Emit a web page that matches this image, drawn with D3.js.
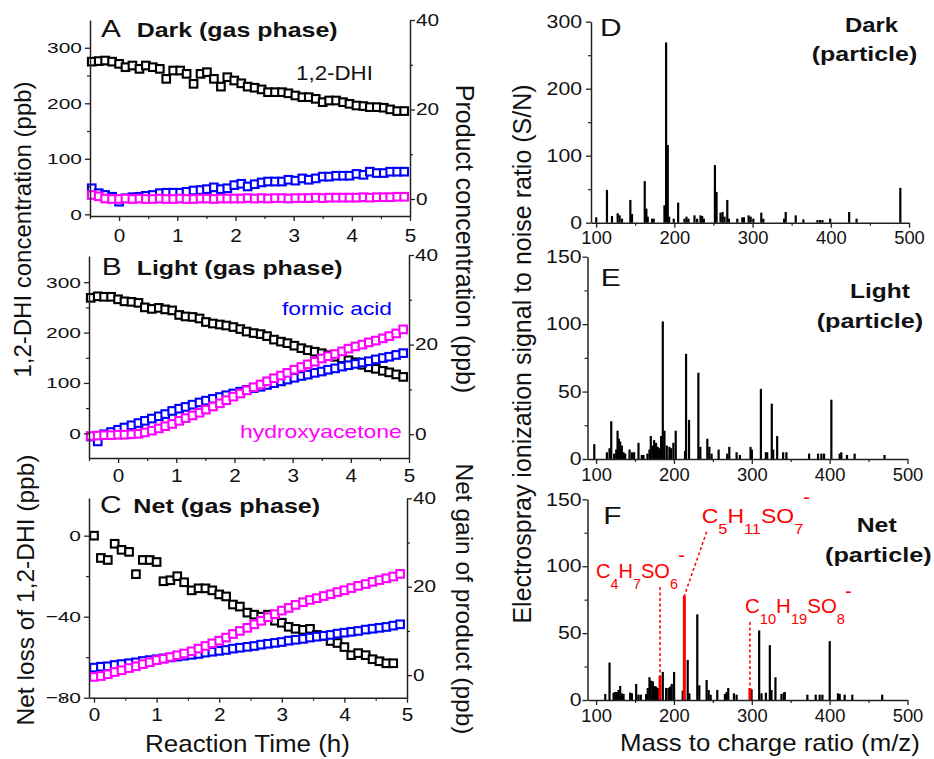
<!DOCTYPE html>
<html><head><meta charset="utf-8">
<script src="https://cdn.jsdelivr.net/npm/d3@7"></script>
<style>
body{margin:0;background:#fff;}
svg{display:block;font-family:"Liberation Sans",Arial,sans-serif;}
</style></head><body>
<svg id="c" width="934" height="759"></svg>
<script>
// ---------------- DATA ----------------
// Panels A and B: reaction time (h)
const timeAB = [-0.47,-0.35,-0.24,-0.12,0.00,0.11,0.23,0.35,0.46,0.58,0.70,0.81,0.93,1.05,1.16,1.28,1.40,1.51,1.63,1.75,1.86,1.98,2.10,2.21,2.33,2.45,2.56,2.68,2.80,2.91,3.03,3.15,3.26,3.38,3.50,3.61,3.73,3.85,3.96,4.08,4.20,4.31,4.43,4.55,4.66,4.78,4.90];
// A: Dark (gas phase)
const darkDHI = [275,276,277,275,271,265,268,262,268,265,262,244,259,259,253,235,253,256,244,230,247,241,236,230,228,225,220,220,220,218,214,211,211,208,202,205,205,202,199,196,195,193,193,192,189,186,186];
const darkFormic = [2.4,1.3,0.9,0.5,-0.6,0.15,0.4,0.5,0.7,0.9,1.3,1.4,1.4,1.4,1.6,1.9,2.0,2.2,2.6,2.2,2.4,3.1,3.4,2.8,3.3,3.7,3.9,3.9,3.9,4.3,4.1,4.6,4.3,4.6,5.0,5.0,5.2,5.2,5.2,5.6,5.4,6.1,5.8,5.8,6.1,6.1,6.1];
const darkHydroxy = [0.9,0.6,0.1,0.0,0.0,0.1,0.0,0.1,0.0,0.0,0.1,0.0,0.0,0.1,0.0,0.0,0.1,0.1,0.0,0.1,0.1,0.1,0.1,0.2,0.1,0.2,0.1,0.2,0.2,0.1,0.2,0.2,0.2,0.3,0.2,0.3,0.3,0.3,0.3,0.3,0.4,0.3,0.4,0.4,0.4,0.5,0.5];
// B: Light (gas phase)
const lightDHI = [269,272,271,271,266,262,261,259,250,247,249,246,244,235,232,231,228,221,218,216,214,211,207,202,199,197,193,186,182,179,174,169,165,162,159,155,152,149,145,141,136,131,128,124,121,117,112];
const lightFormic = [-0.5,-1.6,0.0,0.5,1.0,1.5,2.0,2.5,3.0,3.5,4.0,4.5,5.2,5.7,6.1,6.6,7.1,7.5,7.9,8.3,8.7,9.1,9.5,9.9,10.3,10.6,11.0,11.4,11.8,12.2,12.6,13.0,13.3,13.7,14.0,14.4,14.7,15.1,15.4,15.7,16.0,16.3,16.7,17.0,17.3,17.7,18.1];
const lightHydroxy = [-0.4,-0.3,-0.2,-0.2,-0.1,-0.1,0.0,0.1,0.4,0.8,1.3,1.8,2.3,3.0,3.6,4.2,4.8,5.5,6.2,6.9,7.6,8.4,9.1,9.8,10.5,11.1,11.8,12.5,13.1,13.7,14.4,15.0,15.6,16.2,16.9,17.4,17.9,18.5,19.1,19.6,20.0,20.5,20.9,21.4,21.9,22.5,23.4];
// C: Net (gas phase)
const timeNetDHI = [0.00,0.11,0.22,0.33,0.44,0.56,0.67,0.78,0.89,1.00,1.11,1.22,1.33,1.44,1.56,1.67,1.78,1.89,2.00,2.11,2.22,2.33,2.45,2.56,2.67,2.78,2.89,3.00,3.11,3.22,3.34,3.45,3.56,3.67,3.78,3.89,4.00,4.11,4.22,4.34,4.45,4.56,4.67,4.78];
const netDHI = [0,-11,-12,-4,-7,-8,-19,-12,-12,-13,-22.5,-22,-20,-23,-27,-26,-26,-27,-29,-30,-34,-35,-38,-39,-40,-39,-42,-43,-45,-46,-46.5,-46,-49,-49.5,-52,-53,-55,-59,-58,-59,-61,-62,-63,-63];
const timeNetProd = [0.00,0.11,0.22,0.33,0.44,0.56,0.67,0.78,0.89,1.00,1.11,1.22,1.33,1.44,1.56,1.67,1.78,1.89,2.00,2.11,2.22,2.33,2.45,2.56,2.67,2.78,2.89,3.00,3.11,3.22,3.34,3.45,3.56,3.67,3.78,3.89,4.00,4.11,4.22,4.34,4.45,4.56,4.67,4.78,4.89];
const netFormic = [1.7,1.9,2.0,2.3,2.5,2.7,2.9,3.2,3.4,3.6,3.8,4.0,4.2,4.4,4.6,4.8,5.1,5.3,5.5,5.7,6.0,6.2,6.4,6.6,6.9,7.1,7.3,7.5,7.8,8.0,8.2,8.5,8.7,8.9,9.1,9.4,9.6,9.8,10.0,10.3,10.5,10.7,10.9,11.2,11.5];
const netHydroxy = [-0.4,-0.2,0.2,0.7,1.1,1.6,2.0,2.5,2.9,3.4,3.7,4.1,4.5,4.9,5.4,6.0,6.6,7.2,7.8,8.5,9.3,10.0,10.7,11.5,12.3,13.1,13.8,14.6,15.2,15.9,16.5,17.0,17.4,17.9,18.3,18.8,19.2,19.7,20.2,20.6,21.1,21.5,21.9,22.3,22.9];
// D: Dark (particle) spectrum
const darkMz = [100.2,113.9,120.3,127.6,130.1,133.1,143.8,145.9,162.2,164.3,166,171.6,173.7,187.4,189.5,191.6,193.4,199.3,204.9,213,215.6,218.1,225.8,229.2,233.5,235.6,237.8,251.9,254,259.1,261.7,264.2,267.7,269.8,280.5,286.9,289,295,297.6,301,311.2,313.8,340.3,342.4,355.2,365,383,386.4,389.4,399.2,423.5,433,488.9];
const darkSN = [8,49,10,14,11,6,34,13,62,21,9,6,6,26,269,116,9,6,30,6,9,6,11,6,11,10,6,86,46,15,16,9,34,6,6,8,8,11,9,6,15,6,6,16,11,5,4,4,4,6,16,6,52];
// E: Light (particle) spectrum
const lightMz = [97.7,113.9,117.3,119.5,123.3,125.9,127.6,129.3,131,133.1,135.3,137.4,143,146,148.9,154.5,158.8,160.9,166,168.6,170.3,172.9,174.6,177.1,179.3,181.4,183.5,185.7,187.8,190.8,194.2,196.3,199.3,202.3,214.3,215.6,219.4,231.4,233.9,242.9,245.5,248.4,257.4,268.5,271.1,280.5,284.7,298.4,300.1,311.7,318.1,319.8,325.7,327.5,332.6,340.3,344.5,373.6,385.1,389.4,392.8,402.2,412.9,415,422.3,432.1,470.5];
const lightSN = [11,5,8,28,4,7,21,15,13,10,5,4,7,5,5,12,3,3,4,7,17,10,14,12,9,8,17,102,21,10,9,8,12,21,6,78,29,64,9,15,9,4,7,4,9,5,3,9,7,52,5,5,41,7,17,5,5,4,4,4,4,44,4,5,3,4,3];
// F: Net (particle) spectrum
const netMz = [111.8,117.3,122.5,124.6,126.7,128.9,131,133.1,135.3,143.8,146,151.5,154.5,157.5,164.3,166.4,168.6,170.3,172.9,175,177.1,179.3,185.7,190,193,195,197.2,200.2,211.3,217.7,219.8,230,232.6,242,244.6,247.2,255.7,265.5,267.7,269.8,277.1,280.5,299.7,309.5,312.5,318.1,323.2,325.3,330.4,338.1,341.1,342.4,371.4,382.1,387.2,390.7,400.1,410.7,412.9,419.3,429.1,467.5];
const netSN = [4.5,28,5.5,6,6,7.5,10.5,5,4.5,5.5,5,12,4,4,4.5,9,17,14.5,14,10.5,10,9,21,9,9,10,12,21,7,30,5,64,11,15,7.5,4,7.5,4.5,6,9,5,4,8,52,5,5.5,41,7.5,17,4.5,5.5,6,4,4,4,4,44,5,4.5,4,4,4];
// F: assigned organosulfate peaks (red)
const sulfMz = [182.2,213.4,297.6];
const sulfSN = [18,78,9];
const sulfLabels = [
  [["C",0],["4",1],["H",0],["7",1],["SO",0],["6",1]],
  [["C",0],["5",1],["H",0],["11",1],["SO",0],["7",1]],
  [["C",0],["10",1],["H",0],["19",1],["SO",0],["8",1]]
];
// Tick values
const timeTicks = [0,1,2,3,4,5];
const timeMinor = [-0.5,0.5,1.5,2.5,3.5,4.5];
const dhiTicksAB = [0,100,200,300];
const dhiMinorA = [50,150,250];
const dhiMinorB = [50,150,250];
const prodTicks = [0,20,40];
const prodMinor = [10,30];
const netLossTicks = [-80,-40,0];
const netLossMinor = [-60,-20];
const mzTicks = [100,200,300,400,500];
const mzMinor = [150,250,350,450];
const snTicksD = [0,100,200,300];
const snMinorD = [50,150,250];
const snTicksEF = [0,50,100,150];
const snMinorEF = [25,75,125];

// ---------------- DRAWING ----------------
const svg = d3.select('#c');
const AX = '#222';
const BLUE = '#0000ff', MAG = '#ff00ff', RED = '#ff0000';

function axis(g, scale, orient, major, minor, opt) {
  const mk = {left: d3.axisLeft, right: d3.axisRight, bottom: d3.axisBottom}[orient];
  const ga = g.append('g').attr('transform', opt.tr);
  ga.call(mk(scale).tickValues(major).tickSize(opt.tick || 5).tickSizeOuter(0).tickFormat(opt.fmt || d3.format('d')));
  ga.select('.domain').attr('stroke', AX).attr('stroke-width', 1.5);
  ga.selectAll('.tick line').attr('stroke', AX).attr('stroke-width', 1.3);
  const sx = opt.sx || 1;
  ga.selectAll('.tick text').attr('font-size', opt.fs).attr('fill', '#111')
    .attr('font-family', '"Liberation Sans",Arial,sans-serif')
    .each(function() {
      const t = d3.select(this);
      if (orient === 'left') t.attr('x', -opt.gap / sx);
      if (orient === 'right') t.attr('x', opt.gap / sx);
      if (orient === 'bottom') t.attr('y', opt.gap).attr('dy', '0.71em');
      t.attr('transform', `scale(${sx},1)`);
    });
  if (minor) {
    const gm = g.append('g').attr('transform', opt.tr);
    gm.call(mk(scale).tickValues(minor).tickSize(3).tickSizeOuter(0).tickFormat(''));
    gm.select('.domain').remove();
    gm.selectAll('.tick line').attr('stroke', AX).attr('stroke-width', 1.2);
  }
  return ga;
}

function label(s, x, y, o) {
  const g = svg.append('g');
  const t = g.append('text').text(s).attr('font-size', o.size)
    .attr('font-weight', o.bold ? 'bold' : 'normal').attr('fill', o.color || '#111')
    .attr('text-anchor', o.anchor || 'start');
  let sx = o.sx || 1;
  if (o.w) sx = o.w / t.node().getComputedTextLength();
  g.attr('transform', `translate(${x},${y}) scale(${sx},1)`);
  return g;
}
function vlabel(s, cx, cy, rot, size) {
  svg.append('text').text(s).attr('font-size', size).attr('fill', '#111')
    .attr('text-anchor', 'middle')
    .attr('transform', `translate(${cx},${cy}) rotate(${rot})`);
}

const SQ = 7.6;
function squares(g, xs, ys, x, y, color) {
  g.append('g').selectAll('rect').data(xs.map((t, i) => [t, ys[i]])).join('rect')
    .attr('x', d => x(d[0]) - SQ / 2).attr('y', d => y(d[1]) - SQ / 2)
    .attr('width', SQ).attr('height', SQ)
    .attr('fill', '#fff').attr('stroke', color).attr('stroke-width', 2.1);
}

// ---- Panel A ----
{
  const x = d3.scaleLinear().domain([-0.5, 5]).range([90, 410]);
  const yl = d3.scaleLinear().domain([-3, 350]).range([216, 20]);
  const yr = d3.scaleLinear().domain([-3.8, 40]).range([216, 20]);
  const g = svg.append('g');
  squares(g, timeAB, darkDHI, x, yl, '#000');
  squares(g, timeAB, darkFormic, x, yr, BLUE);
  squares(g, timeAB, darkHydroxy, x, yr, MAG);
  axis(g, yl, 'left', dhiTicksAB, dhiMinorA, {tr: 'translate(90,0)', fs: 15.5, sx: 1.35, gap: 8});
  axis(g, yr, 'right', prodTicks, prodMinor, {tr: 'translate(410,0)', fs: 16, sx: 1.3, gap: 6});
  axis(g, x, 'bottom', timeTicks, timeMinor, {tr: 'translate(0,216)', fs: 18, sx: 1.15, gap: 13});
}
// ---- Panel B ----
{
  const x = d3.scaleLinear().domain([-0.5, 5]).range([89, 409]);
  const yl = d3.scaleLinear().domain([-49, 352]).range([458, 256]);
  const yr = d3.scaleLinear().domain([-5.3, 40]).range([458, 255]);
  const g = svg.append('g');
  squares(g, timeAB, lightDHI, x, yl, '#000');
  squares(g, timeAB, lightFormic, x, yr, BLUE);
  squares(g, timeAB, lightHydroxy, x, yr, MAG);
  axis(g, yl, 'left', dhiTicksAB, dhiMinorB, {tr: 'translate(89,0)', fs: 15.5, sx: 1.35, gap: 8});
  axis(g, yr, 'right', prodTicks, prodMinor, {tr: 'translate(409,0)', fs: 16, sx: 1.3, gap: 6});
  axis(g, x, 'bottom', timeTicks, timeMinor, {tr: 'translate(0,458)', fs: 18, sx: 1.15, gap: 11});
}
// ---- Panel C ----
{
  const x = d3.scaleLinear().domain([-0.08, 5]).range([89, 407]);
  const yl = d3.scaleLinear().domain([-80, 18.6]).range([697.7, 498]);
  const yr = d3.scaleLinear().domain([-5.1, 40]).range([697.7, 498.3]);
  const g = svg.append('g');
  squares(g, timeNetDHI, netDHI, x, yl, '#000');
  squares(g, timeNetProd, netFormic, x, yr, BLUE);
  squares(g, timeNetProd, netHydroxy, x, yr, MAG);
  axis(g, yl, 'left', netLossTicks, netLossMinor, {tr: 'translate(89,0)', fs: 15.5, sx: 1.35, gap: 8});
  axis(g, yr, 'right', prodTicks, prodMinor, {tr: 'translate(407,0)', fs: 16, sx: 1.3, gap: 6});
  axis(g, x, 'bottom', timeTicks, timeMinor, {tr: 'translate(0,697.7)', fs: 18, sx: 1.15, gap: 11});
}

// ---- Spectra ----
function spectrum(mz, sn, x, y, color, w) {
  svg.append('g').selectAll('rect').data(mz.map((m, i) => [m, sn[i]])).join('rect')
    .attr('x', d => x(d[0]) - w / 2).attr('y', d => y(d[1]))
    .attr('width', w).attr('height', d => y(0) - y(d[1]))
    .attr('fill', color);
}
{ // D
  const x = d3.scaleLinear().domain([93.5, 500]).range([591, 909]);
  const y = d3.scaleLinear().domain([0, 300]).range([222.7, 21.7]);
  spectrum(darkMz, darkSN, x, y, '#000', 2.2);
  const g = svg.append('g');
  axis(g, y, 'left', snTicksD, snMinorD, {tr: 'translate(591,0)', fs: 18, sx: 1.18, gap: 9});
  axis(g, x, 'bottom', mzTicks, mzMinor, {tr: 'translate(0,222.7)', fs: 18, sx: 1.02, gap: 9});
}
{ // E
  const x = d3.scaleLinear().domain([89, 500]).range([587.5, 907.5]);
  const y = d3.scaleLinear().domain([0, 150]).range([459, 256.7]);
  spectrum(lightMz, lightSN, x, y, '#000', 2.2);
  const g = svg.append('g');
  axis(g, y, 'left', snTicksEF, snMinorEF, {tr: 'translate(587.5,0)', fs: 18, sx: 1.18, gap: 6});
  axis(g, x, 'bottom', mzTicks, mzMinor, {tr: 'translate(0,459)', fs: 18, sx: 1.02, gap: 9});
}
{ // F
  const x = d3.scaleLinear().domain([89, 500]).range([587.5, 907.5]);
  const y = d3.scaleLinear().domain([0, 150]).range([700, 499.3]);
  spectrum(netMz, netSN, x, y, '#000', 2.2);
  // dashed connectors from formulas to red peaks
  const anchors = [[x(sulfMz[0]), 587], [706.7, 531.7], [x(sulfMz[2]), 622]];
  const dg = svg.append('g');
  sulfMz.forEach((m, i) => {
    dg.append('line').attr('x1', anchors[i][0]).attr('y1', anchors[i][1])
      .attr('x2', x(m)).attr('y2', y(sulfSN[i]))
      .attr('stroke', RED).attr('stroke-width', 1.5).attr('stroke-dasharray', '3,2.5');
  });
  spectrum(sulfMz, sulfSN, x, y, RED, 3);
  const g = svg.append('g');
  axis(g, y, 'left', snTicksEF, snMinorEF, {tr: 'translate(587.5,0)', fs: 18, sx: 1.18, gap: 6});
  axis(g, x, 'bottom', mzTicks, mzMinor, {tr: 'translate(0,700)', fs: 18, sx: 1.02, gap: 9});
  // formula labels
  const pos = [[596, 578, 82, 681.7, 562], [701.7, 523.3, 101.6, 806.7, 504], [745, 613.3, 100, 848.3, 597.5]];
  sulfLabels.forEach((parts, i) => {
    const [lx, ly, lw, mx, my] = pos[i];
    const gg = svg.append('g');
    const t = gg.append('text').attr('fill', RED).attr('font-size', 21);
    let sub = false;
    parts.forEach(([s, isSub]) => {
      const ts = t.append('tspan').text(s);
      if (isSub && !sub) { ts.attr('font-size', 15).attr('dy', 11); sub = true; }
      else if (!isSub && sub) { ts.attr('dy', -11); sub = false; }
      else if (isSub) ts.attr('font-size', 15);
    });
    const sx = lw / t.node().getComputedTextLength();
    gg.attr('transform', `translate(${lx},${ly}) scale(${sx},1)`);
    svg.append('text').text('-').attr('x', mx).attr('y', my).attr('fill', RED)
      .attr('font-size', 20).attr('text-anchor', 'middle');
  });
}

// ---- Text labels ----
label('A', 101, 37.3, {size: 23, sx: 1.3});
label('Dark (gas phase)', 136.7, 37.3, {size: 20.5, bold: true, w: 201});
label('B', 101.7, 275, {size: 23, sx: 1.3});
label('Light (gas phase)', 136.7, 275, {size: 20.5, bold: true, w: 206});
label('C', 100, 513.3, {size: 23, sx: 1.3});
label('Net (gas phase)', 133.3, 513, {size: 20.5, bold: true, w: 187});
label('1,2-DHI', 296, 80, {size: 21, w: 77});
label('formic acid', 282, 315, {size: 19, w: 110, color: BLUE});
label('hydroxyacetone', 240, 438, {size: 19, w: 162, color: MAG});
label('D', 600, 36, {size: 23, sx: 1.3});
label('Dark', 845, 31.7, {size: 21, bold: true, w: 53});
label('(particle)', 811.7, 61, {size: 21, bold: true, w: 105.6});
label('E', 600.7, 285.7, {size: 23, sx: 1.3});
label('Light', 850, 298.3, {size: 21, bold: true, w: 60});
label('(particle)', 816.7, 328.3, {size: 21, bold: true, w: 106.6});
label('F', 603.3, 524, {size: 23, sx: 1.3});
label('Net', 856.7, 531.7, {size: 21, bold: true, w: 40});
label('(particle)', 825, 561.7, {size: 21, bold: true, w: 106.7});
label('Reaction Time (h)', 145, 751.7, {size: 24, w: 205});
label('Mass to charge ratio (m/z)', 620, 751, {size: 24, w: 300});
vlabel('1,2-DHI concentration (ppb)', 31, 229.5, -90, 24);
vlabel('Product concentration (ppb)', 456, 239, 90, 25);
vlabel('Net loss of 1,2-DHI (ppb)', 33.5, 590, -90, 24.5);
vlabel('Net gain of product (ppb)', 456, 599, 90, 24.5);
vlabel('Electrospray ionization signal to noise ratio (S/N)', 530.5, 354, -90, 25);
</script>
</body></html>
